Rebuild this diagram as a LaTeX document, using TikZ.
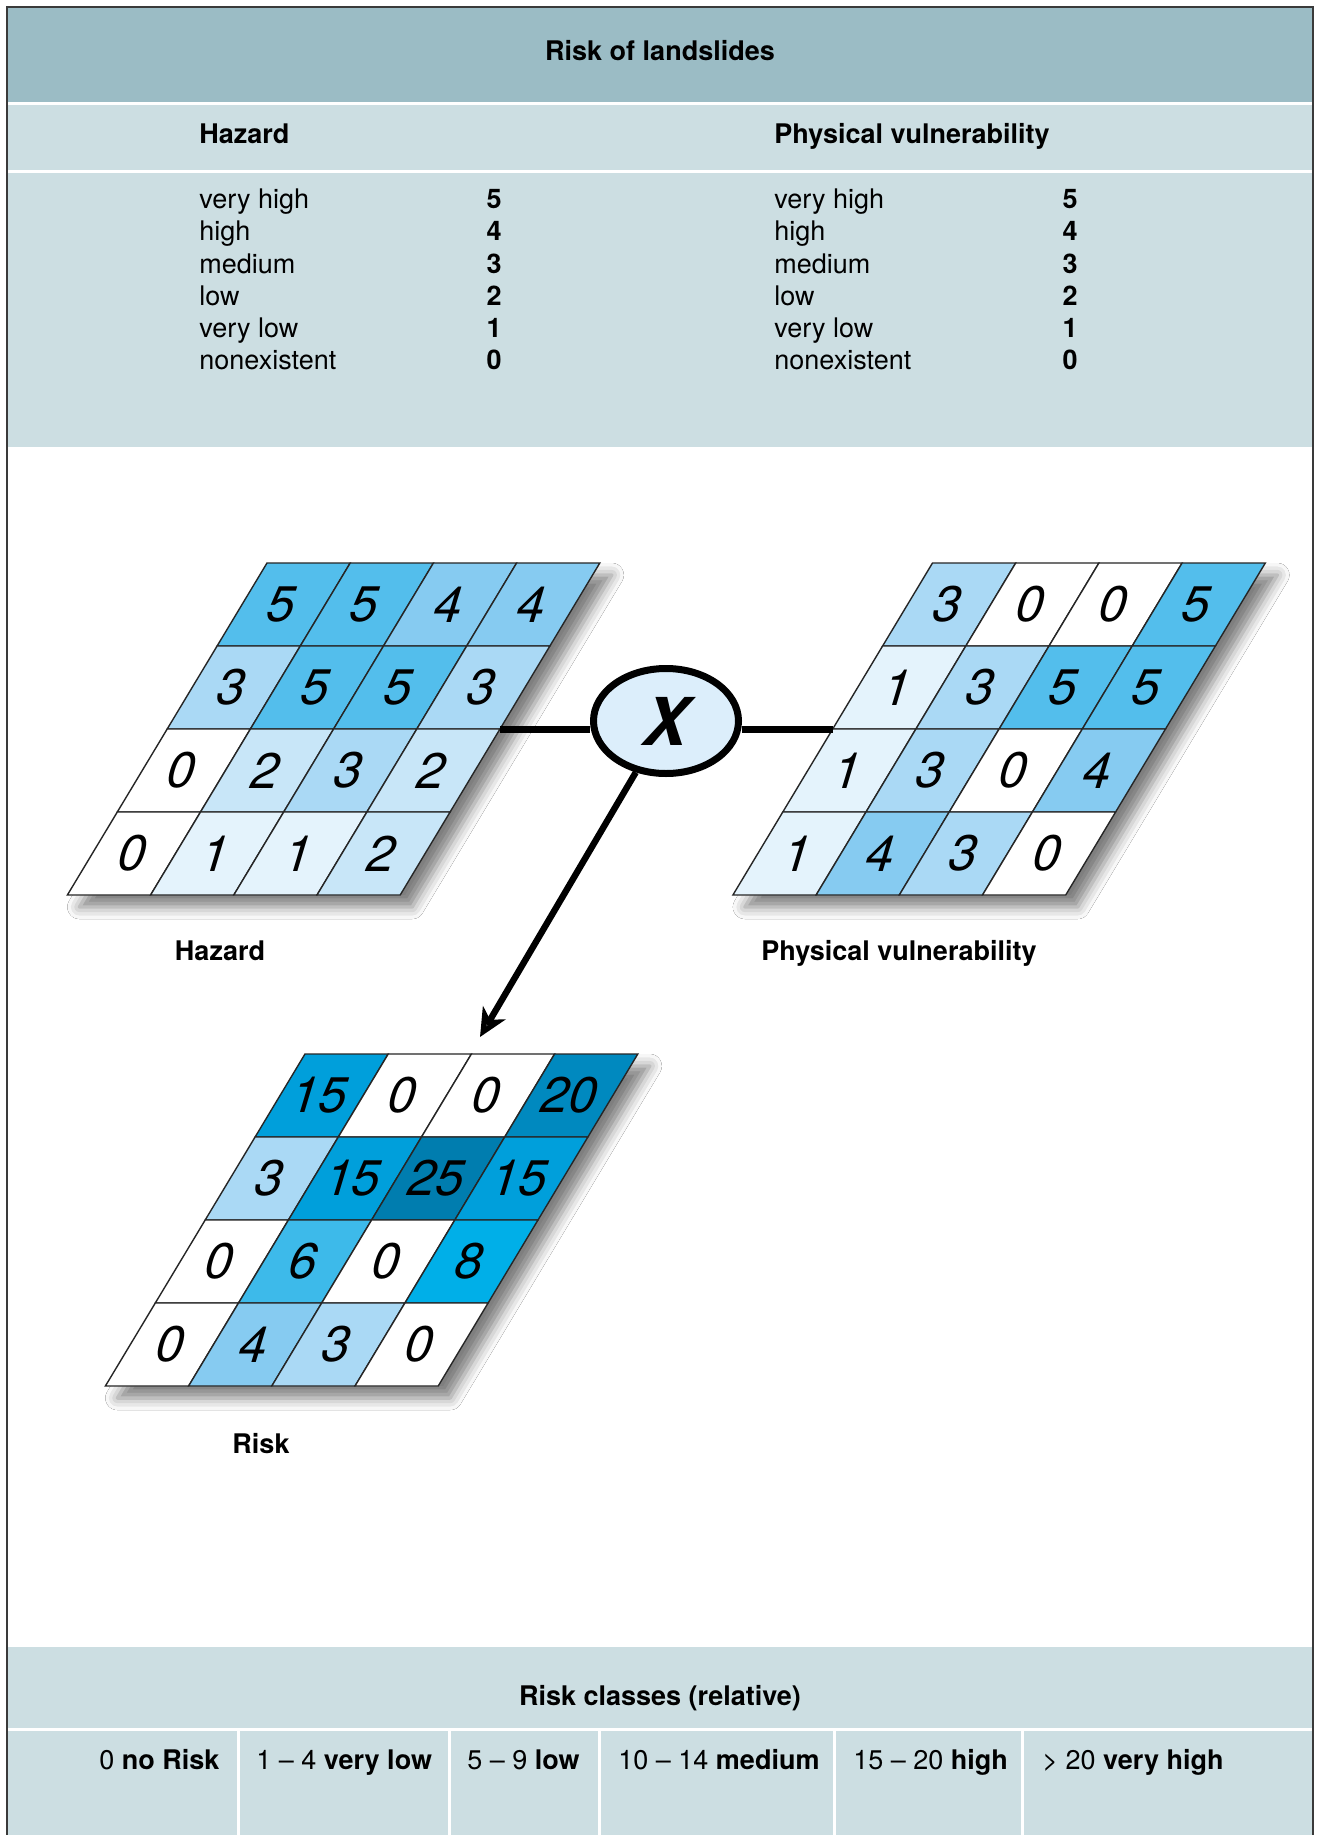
\documentclass[tikz,border=0pt]{standalone}
\usepackage{fontspec}
\setmainfont{TeX Gyre Heros}
\newfontfamily\slantdigits[FakeSlant=0.3]{TeX Gyre Heros}
\newfontfamily\slantbold[FakeSlant=0.3,UprightFont={* Bold}]{TeX Gyre Heros}
\usetikzlibrary{shapes.geometric,arrows.meta,shadows.blur}

\definecolor{bandDark}{HTML}{9BBCC5}
\definecolor{bandLight}{HTML}{CCDEE2}
\definecolor{frameGray}{HTML}{3A3A3A}
\definecolor{multFill}{HTML}{DCEEFB}
\definecolor{cell0}{HTML}{FFFFFF}
\definecolor{cell1}{HTML}{E4F3FC}
\definecolor{cell2}{HTML}{C8E6F8}
\definecolor{cell3}{HTML}{AAD9F5}
\definecolor{cell4}{HTML}{86CBF1}
\definecolor{cell5}{HTML}{53BEEC}
\definecolor{cell6}{HTML}{3DBAEA}
\definecolor{cell8}{HTML}{00AFE8}
\definecolor{cell15}{HTML}{009FDB}
\definecolor{cell20}{HTML}{0089BF}
\definecolor{cell25}{HTML}{007DAF}

\tikzstyle{arrow} = [line width=3.2pt,-{Stealth[length=14pt,width=13pt,inset=4pt]}]
\tikzstyle{link} = [line width=3.5pt]
\tikzstyle{txt} = [inner sep=0pt, font=\fontsize{13.5}{16}\selectfont]
\tikzstyle{head} = [inner sep=0pt, font=\fontsize{13.5}{16}\selectfont\bfseries]
\tikzstyle{digit} = [inner sep=0pt, xshift=-3pt, font=\fontsize{25}{28}\selectfont\slantdigits]
\tikzstyle{cellline} = [draw=black!85, line width=0.7pt]
\tikzstyle{gridshadow} = [blur shadow={shadow xshift=6pt,shadow yshift=-6pt,shadow blur radius=6pt,shadow opacity=50}]

% cell size and skew of the slanted grids (px)
\def\cw{83.2}
\def\ch{83}
\def\sk{49.9}

% #1 name, #2 #3 top left corner, #4 rows of values
\newcommand{\cellgrid}[4]{%
  \fill[white, gridshadow] (#2,#3) -- ++(4*\cw,0) -- ++(-4*\sk,4*\ch) -- ++(-4*\cw,0) -- cycle;
  \foreach \vals [count=\rw from 0] in {#4} {
    \foreach \v [count=\cl from 0] in \vals {
      \filldraw[cellline, fill=cell\v] ({#2+\cl*\cw-\rw*\sk},{#3+\rw*\ch}) -- ++(\cw,0) -- ++(-\sk,\ch) -- ++(-\cw,0) -- cycle;
      \node[digit] (#1-\rw-\cl) at ({#2+(\cl+0.5)*\cw-(\rw+0.5)*\sk},{#3+(\rw+0.5)*\ch}) {\v};
    }
  }
}

\begin{document}
\begin{tikzpicture}[x=0.5pt,y=-0.5pt]
\useasboundingbox (0,0) rectangle (1321,1835);
\fill[white] (0,0) rectangle (1321,1835);

% bands
\fill[bandDark] (7,7) rectangle (1313,102);
\fill[bandLight] (7,105) rectangle (1313,170);
\fill[bandLight] (7,173) rectangle (1313,447);
\fill[bandLight] (7,1647) rectangle (1313,1728);
\fill[bandLight] (7,1731) rectangle (1313,1835);
\foreach \x in {238,449,599,834,1022}
  \draw[white, line width=1.5pt] (\x,1731) -- (\x,1835);
\draw[frameGray, line width=0.9pt] (7,1835) -- (7,7) -- (1313,7) -- (1313,1835);

% legend
\node[head] (title) at (660,51) {Risk of landslides};
\node[head, anchor=base west] (hazHead) at (199,144) {Hazard};
\node[head, anchor=base west] (vulHead) at (774,144) {Physical vulnerability};
\foreach \lab/\num [count=\i from 0] in {very high/5, high/4, medium/3, low/2, very low/1, nonexistent/0} {
  \node[txt, anchor=base west] (hazLab\i) at (199,{209+32*\i}) {\lab};
  \node[head, anchor=base] (hazNum\i) at (494,{209+32*\i}) {\num};
  \node[txt, anchor=base west] (vulLab\i) at (774,{209+32*\i}) {\lab};
  \node[head, anchor=base] (vulNum\i) at (1070,{209+32*\i}) {\num};
}

% grids
\cellgrid{haz}{267}{563}{{5,5,4,4},{3,5,5,3},{0,2,3,2},{0,1,1,2}}
\cellgrid{vul}{932.5}{563}{{3,0,0,5},{1,3,5,5},{1,3,0,4},{1,4,3,0}}
\cellgrid{risk}{305}{1054}{{15,0,0,20},{3,15,25,15},{0,6,0,8},{0,4,3,0}}

\node[head, anchor=base] (hazName) at (220,960) {Hazard};
\node[head, anchor=base] (vulName) at (899,960) {Physical vulnerability};
\node[head, anchor=base] (riskName) at (261,1453) {Risk};

% multiplication
\node[ellipse, draw, line width=3.5pt, fill=multFill, minimum width=72.5pt, minimum height=52.5pt, inner sep=0pt,
  font=\fontsize{33}{33}\selectfont\slantbold] (mult) at (666,721) {\hspace{-4pt}X};
\coordinate (hazR) at (500,729);
\coordinate (vulL) at (833,729);
\coordinate (riskTip) at (480,1037);

\draw [link] (hazR) -- (mult.west |- hazR);
\draw [link] (mult.east |- vulL) -- (vulL);
\draw [arrow] (mult) -- (riskTip);

% classes
\node[head, anchor=base] (classHead) at (660,1705) {Risk classes (relative)};
\foreach \x/\lab [count=\i] in {99/{0 \textbf{no Risk}}, 256/{1 -- 4 \textbf{very low}}, 467/{5 -- 9 \textbf{low}},
  618/{10 -- 14 \textbf{medium}}, 853/{15 -- 20 \textbf{high}}, 1042/{> 20 \textbf{very high}}}
  \node[txt, anchor=base west] (class\i) at (\x,1769) {\lab};

\end{tikzpicture}
\end{document}
